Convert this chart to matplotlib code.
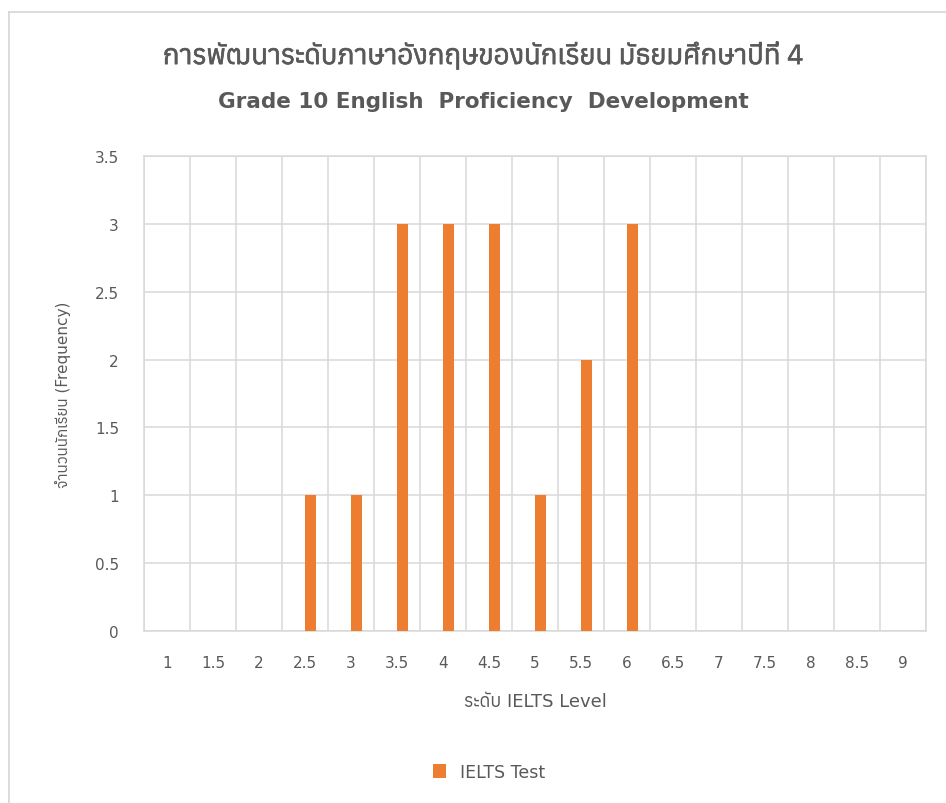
import matplotlib
matplotlib.use('Agg')
import matplotlib.pyplot as plt
import matplotlib.patheffects as pe
from matplotlib import font_manager, ft2font
from matplotlib.lines import Line2D
import numpy as np

# datos del grafico
levels = ['1', '1.5', '2', '2.5', '3', '3.5', '4', '4.5', '5', '5.5', '6',
          '6.5', '7', '7.5', '8', '8.5', '9']
frequency = [0, 0, 0, 1, 1, 3, 3, 3, 1, 2, 3, 0, 0, 0, 0, 0, 0]
y_ticks = [0, 0.5, 1, 1.5, 2, 2.5, 3, 3.5]

title_th = 'การพัฒนาระดับภาษาอังกฤษของนักเรียน มัธยมศึกษาปีที่ 4'
title_en = 'Grade 10 English  Proficiency  Development'
xlabel = 'ระดับ IELTS Level'
ylabel = 'จำนวนนักเรียน (Frequency)'
series_name = 'IELTS Test'

# buscar una fuente con glifos tailandeses
thai_fonts = []
for f in font_manager.fontManager.ttflist:
    try:
        if 0x0E01 in ft2font.FT2Font(f.fname).get_charmap():
            thai_fonts.append(f.name)
    except Exception:
        pass
thai_fonts = sorted(set(thai_fonts))
plt.rcParams['font.family'] = ['DejaVu Sans'] + thai_fonts[:1]

grey = '#595959'
grid_c = '#D9D9D9'
orange = '#ED7D31'

fig = plt.figure(figsize=(9.46, 8.04), dpi=100)
ax = fig.add_axes([0.1522, 0.2139, 0.8267, 0.5908])

x = np.arange(len(levels))
ax.bar(x + 0.125, frequency, width=0.23, color=orange, zorder=3, label=series_name)

ax.set_xlim(-0.5, len(levels) - 0.5)
ax.set_ylim(0, 3.5)
ax.set_yticks(y_ticks)
ax.set_yticklabels(['%g' % v for v in y_ticks])
ax.set_xticks(x)
ax.set_xticklabels(levels)
ax.set_xticks(np.arange(len(levels) + 1) - 0.5, minor=True)

ax.grid(axis='y', color=grid_c, lw=1.1, zorder=0)
ax.grid(axis='x', which='minor', color=grid_c, lw=1.1, zorder=0)
ax.grid(axis='x', which='major', visible=False)
for s in ax.spines.values():
    s.set_color(grid_c)
    s.set_linewidth(1.1)
ax.tick_params(which='both', length=0)
ax.tick_params(axis='y', pad=18, labelsize=11, labelcolor=grey)
ax.tick_params(axis='x', pad=17, labelsize=11, labelcolor=grey)

ax.set_xlabel(xlabel, fontsize=13, color=grey, labelpad=16)
ax.set_ylabel(ylabel, fontsize=11, color=grey, labelpad=17)

# el titulo tailandes con la fuente tailandesa primero (no tiene negrita)
fig.text(0.511, 0.929, title_th, ha='center', va='center', fontsize=19.8,
         color=grey, family=thai_fonts[:1] + ['DejaVu Sans'],
         path_effects=[pe.withStroke(linewidth=0.45, foreground=grey)])
fig.text(0.511, 0.873, title_en, ha='center', va='center', fontsize=15.5,
         color=grey, fontweight='bold')

fig.legend(loc='center', bbox_to_anchor=(0.517, 0.039), frameon=False,
           fontsize=12.5, labelcolor=grey, handlelength=0.7, handleheight=0.85,
           handletextpad=0.8)

# marco del grafico
fig.add_artist(Line2D([0.0095, 0.0095], [0, 0.984], color=grid_c, lw=1.3))
fig.add_artist(Line2D([0.0095, 1.0], [0.984, 0.984], color=grid_c, lw=1.3))

fig.savefig('out.png', dpi=100)
